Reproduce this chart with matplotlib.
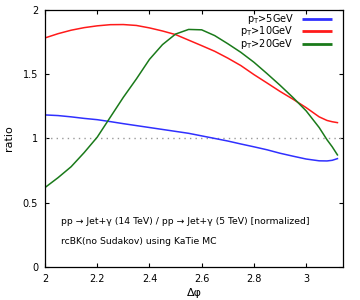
import matplotlib
matplotlib.use('Agg')
import matplotlib.pyplot as plt

# Delta phi grid and ratio curves
dphi = [2.00, 2.05, 2.10, 2.15, 2.20, 2.25, 2.30, 2.35, 2.40, 2.45, 2.50,
        2.55, 2.60, 2.65, 2.70, 2.75, 2.80, 2.85, 2.90, 2.95, 3.00, 3.05,
        3.08, 3.10, 3.12]

ratio_pt5 = [1.183, 1.178, 1.168, 1.156, 1.146, 1.131, 1.115, 1.100, 1.085,
             1.070, 1.055, 1.040, 1.020, 1.000, 0.980, 0.957, 0.935, 0.912,
             0.885, 0.862, 0.840, 0.826, 0.825, 0.830, 0.843]

ratio_pt10 = [1.782, 1.815, 1.842, 1.862, 1.876, 1.885, 1.886, 1.879, 1.860,
              1.836, 1.808, 1.765, 1.722, 1.678, 1.625, 1.567, 1.497, 1.432,
              1.366, 1.305, 1.240, 1.168, 1.140, 1.130, 1.123]

ratio_pt20 = [0.618, 0.695, 0.780, 0.890, 1.010, 1.165, 1.320, 1.463, 1.615,
              1.730, 1.812, 1.848, 1.845, 1.800, 1.737, 1.670, 1.593, 1.505,
              1.414, 1.318, 1.215, 1.085, 0.990, 0.935, 0.872]

labels = [r'p$_\mathrm{T}$>5GeV', r'p$_\mathrm{T}$>10GeV', r'p$_\mathrm{T}$>20GeV']
colors = ['#3030ff', '#ff1a1a', '#1a7a1a']

fig = plt.figure(figsize=(3.6, 3.0), dpi=100)
ax = fig.add_axes([0.125, 0.11, 0.828, 0.857])

ax.axhline(1.0, color='#999999', linestyle=(0, (1, 3)), linewidth=1.0)

for ys, col in zip([ratio_pt5, ratio_pt10, ratio_pt20], colors):
    ax.plot(dphi, ys, color=col, linewidth=1.1)

ax.set_xlim(2, 3.1416)
ax.set_ylim(0, 2)
ax.set_xticks([2, 2.2, 2.4, 2.6, 2.8, 3])
ax.set_xticklabels(['2', '2.2', '2.4', '2.6', '2.8', '3'])
ax.set_yticks([0, 0.5, 1, 1.5, 2])
ax.set_yticklabels(['0', '0.5', '1', '1.5', '2'])
ax.tick_params(direction='in', top=True, right=True, length=3, width=0.8,
               labelsize=7, pad=5)
for sp in ax.spines.values():
    sp.set_linewidth(0.9)

ax.set_xlabel('Δφ', fontsize=8, labelpad=3)
ax.set_ylabel('ratio', fontsize=8, labelpad=6)

# gnuplot-style key: right-aligned text followed by a line sample
key_y = [0.965, 0.917, 0.869]
for lab, col, yk in zip(labels, colors, key_y):
    ax.text(0.835, yk, lab, transform=ax.transAxes, ha='right', va='center',
            fontsize=7)
    ax.plot([0.861, 0.962], [yk, yk], transform=ax.transAxes, color=col,
            linewidth=2.0, solid_capstyle='butt')

ax.text(2.06, 0.353, 'pp → Jet+γ (14 TeV) / pp → Jet+γ (5 TeV) [normalized]',
        fontsize=6.65, va='center', ha='left')
ax.text(2.06, 0.197, 'rcBK(no Sudakov) using KaTie MC',
        fontsize=6.65, va='center', ha='left')

plt.savefig('out.png', dpi=100)
